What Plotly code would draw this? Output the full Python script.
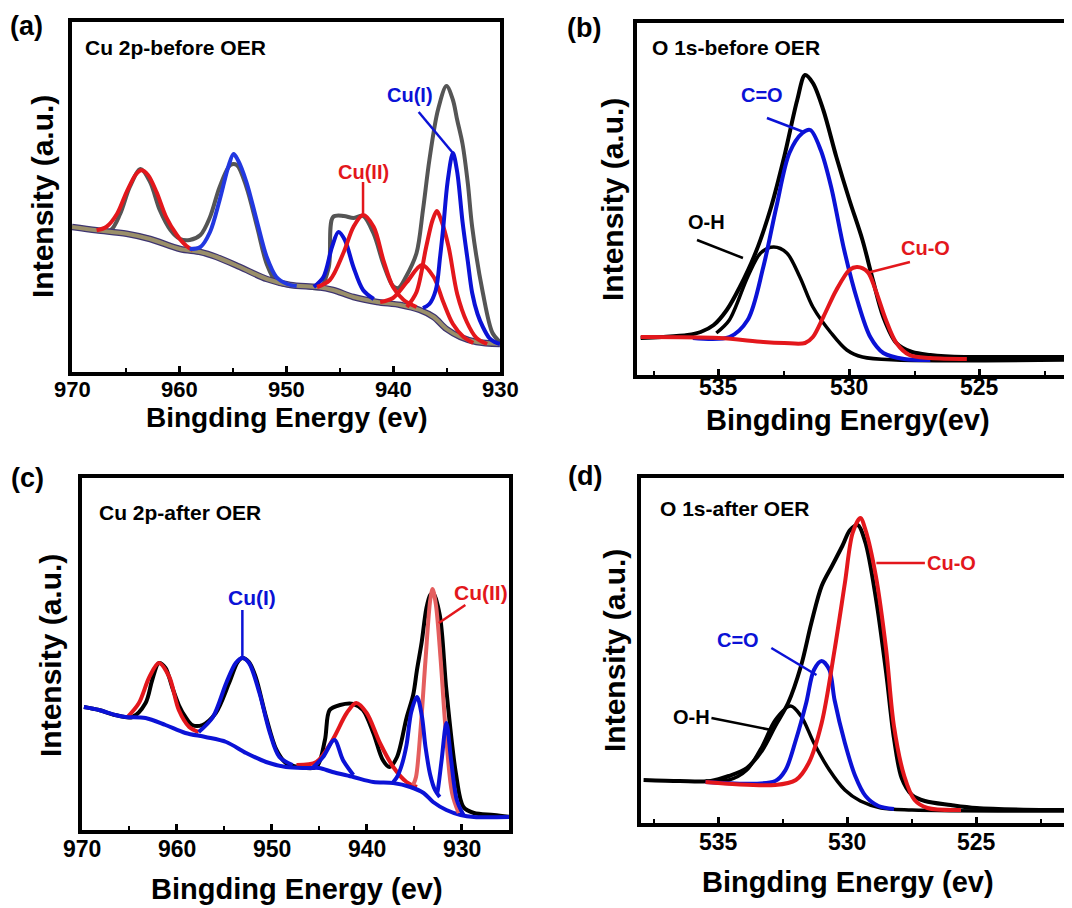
import plotly.graph_objects as go

# The page places the figure 8 px from the top-left corner, so the figure is
# sized to fill the rest of the 1072x908 window.
OFF = 8
W, H = 1072 - OFF, 908 - OFF
FONT = "Liberation Sans, Arial, sans-serif"

# ---------------- Panel (a): Cu 2p before OER ----------------
a_raw_e = [969.9, 967.7, 966.4, 965.5, 964.6, 963.6, 962.7, 961.8, 960.8, 959.9, 959.0, 958.0, 957.1, 956.2,
           955.2, 954.6, 953.7, 952.7, 951.8, 950.9, 949.6, 948.1, 946.8, 946.0, 945.6, 944.6, 943.7, 942.8,
           941.8, 940.9, 940.0, 939.5, 938.8, 937.8, 937.2, 936.6, 935.8, 935.0, 934.4, 934.0, 933.5, 933.0,
           932.6, 931.6, 930.7, 930.0]
a_raw_i = [145, 141.7, 141.7, 158, 185, 203, 190, 162, 142, 133, 132, 137, 155, 185,
           207, 207, 185, 145, 108, 90, 86, 85, 84, 105, 155, 156, 154, 156,
           138, 108, 86, 84, 95, 119, 162, 212, 262, 286, 272, 252, 228, 188,
           145, 79, 39, 30]
a_bg_e = [970, 967.7, 964.9, 962.7, 959.9, 958.0, 956.5, 954.3, 951.8, 949.6, 947.1, 945.6, 943.7, 941.5,
          939.3, 937.5, 936.2, 935.0, 933.7, 932.2, 930]
a_bg_i = [145, 141.7, 138.3, 133, 123, 120, 115, 105, 93, 87, 85, 82, 75, 70, 67, 62, 55, 43, 35, 30, 28]
a_r1_e = [967.7, 966.8, 965.8, 964.9, 964.0, 963.5, 962.9, 962.1, 961.2, 960.2, 959.3, 958.7]
a_r1_i = [141.7, 145, 158, 180, 198, 201.7, 197, 180, 155, 137, 126, 122]
a_b1_e = [959.0, 958.0, 957.1, 956.2, 955.4, 954.9, 954.5, 953.7, 952.7, 951.8, 950.9, 949.9, 949.0]
a_b1_i = [123, 125, 140, 172, 205, 218, 212, 190, 150, 115, 95, 88, 86]
a_b2_e = [947.4, 946.5, 945.7, 945.1, 944.5, 943.7, 942.8, 941.8]
a_b2_i = [85, 95, 125, 140, 132, 105, 82, 73]
a_r2_e = [947.1, 945.9, 944.6, 943.7, 942.8, 941.8, 940.9, 940.0, 939.0, 937.8]
a_r2_i = [85, 92, 120, 145, 157, 145, 112, 85, 72, 65]
a_r3_e = [941.2, 940.0, 938.7, 937.3, 936.2, 935.3, 934.4, 933.4, 932.5]
a_r3_i = [70, 74, 90, 107, 95, 70, 48, 35, 29]
a_r4_e = [938.7, 937.8, 936.9, 936.3, 935.9, 935.5, 934.8, 934.0, 933.1, 932.2, 931.2]
a_r4_i = [65, 80, 125, 152, 161, 152, 125, 78, 50, 34, 28]
a_b3_e = [937.2, 936.6, 936.0, 935.6, 935.3, 934.9, 934.4, 934.0, 933.5, 933.0, 932.6, 932.1, 931.6, 931.0,
          930.5, 930.0]
a_b3_i = [64, 68, 82, 115, 145, 190, 219, 200, 150, 110, 79, 58, 45, 34, 30, 28]

# ---------------- Panel (b): O 1s before OER ----------------
b_raw_e = [538.0, 537.2, 536.2, 535.7, 535.2, 534.7, 534.2, 533.6, 533.0, 532.5, 532.0, 531.7, 531.4, 531.0,
           530.5, 530.0, 529.5, 529.1, 528.7, 528.2, 527.6, 526.9, 525.6, 524.4, 522.2, 521.4]
b_raw_i = [37, 38, 40, 43, 50, 65, 88, 122, 168, 218, 275, 300, 292, 265,
           218, 175, 135, 95, 58, 32, 23, 20, 18, 18, 18, 18]
b_co_e = [536.0, 534.6, 533.9, 533.3, 532.8, 532.3, 531.8, 531.5, 531.1, 530.7, 530.2, 529.7, 529.2, 528.7,
          527.9, 526.9]
b_co_i = [37, 38, 55, 108, 168, 222, 242, 245, 225, 188, 125, 75, 38, 22, 16, 15]
b_oh_e = [535.1, 534.6, 533.9, 533.4, 532.9, 532.4, 531.9, 531.4, 530.7, 530.1, 529.5, 528.2, 521.4]
b_oh_i = [42, 55, 98, 122, 128, 122, 98, 68, 42, 25, 18, 15, 15]
b_cuo_e = [538.0, 535.0, 533.3, 532.5, 531.7, 531.4, 531.0, 530.5, 530.0, 529.7, 529.3, 529.0, 528.6, 528.2,
           527.7, 526.9, 525.5]
b_cuo_i = [38, 37, 33, 32, 32, 38, 58, 85, 105, 108, 103, 85, 55, 32, 20, 17, 16]

# ---------------- Panel (c): Cu 2p after OER ----------------
c_raw_e = [969.8, 968.2, 966.5, 964.7, 963.3, 962.6, 961.9, 961.2, 960.5, 959.8, 959.1, 958.4, 957.3, 955.9,
           954.5, 953.6, 953.1, 952.4, 951.7, 950.6, 949.5, 948.5, 947.1, 945.3, 944.4, 943.9, 942.8, 941.4,
           940.4, 939.3, 938.3, 937.6, 936.8, 935.8, 935.1, 934.7, 934.2, 933.7, 933.3, 933.0, 932.3, 931.6,
           930.6, 929.8, 928.7, 926.6, 924.9]
c_raw_i = [123, 120, 115, 113, 127, 150, 167, 162, 143, 125, 113, 105, 105, 117,
           147, 168, 172, 168, 153, 113, 80, 67, 63, 63, 90, 120, 125, 126,
           120, 97, 70, 63, 73, 112, 135, 160, 188, 222, 235, 237, 215, 140,
           57, 23, 17, 15, 13]
c_bg_e = [969.8, 968.2, 966.5, 965.4, 963.3, 961.2, 959.1, 957.0, 954.8, 952.7, 950.6, 948.5, 946.4, 945.0,
          943.6, 941.4, 939.3, 937.2, 935.4, 934.0, 933.0, 931.6, 930.1, 928.7, 924.9]
c_bg_i = [123, 120, 115, 113, 112, 105, 97, 93, 88, 77, 68, 63, 62, 62,
          58, 53, 48, 47, 43, 37, 28, 20, 15, 13, 13]
c_r1_e = [965.2, 964.0, 962.9, 961.9, 960.8, 959.8, 958.7, 957.7]
c_r1_i = [113, 127, 153, 167, 153, 120, 103, 98]
c_b1_e = [957.7, 956.2, 954.8, 953.8, 953.1, 952.4, 951.3, 950.2, 949.2, 947.8]
c_b1_i = [98, 113, 147, 167, 172, 167, 137, 97, 73, 65]
c_r2_e = [947.4, 945.3, 943.6, 942.1, 941.1, 940.0, 938.6, 937.2, 935.8, 934.7]
c_r2_i = [65, 68, 90, 117, 127, 117, 87, 63, 48, 43]
c_b2_e = [945.7, 944.6, 943.4, 942.5, 941.4]
c_b2_i = [62, 73, 90, 70, 55]
c_b3_e = [937.2, 936.8, 936.3, 935.8, 935.3, 934.7, 934.2, 933.8, 933.3, 932.8, 932.3]
c_b3_i = [48, 53, 65, 85, 118, 133, 115, 83, 55, 40, 33]
c_lr_e = [935.1, 934.8, 934.3, 933.8, 933.3, 933.05, 932.7, 932.2, 931.7, 931.0, 930.3]
c_lr_i = [45, 53, 103, 170, 230, 241, 225, 170, 103, 37, 17]
c_b4_e = [932.6, 932.5, 932.1, 931.6, 931.1, 930.5, 929.8]
c_b4_i = [36, 40, 70, 107, 70, 30, 15]

# ---------------- Panel (d): O 1s after OER ----------------
d_raw_e = [537.9, 536.5, 535.3, 534.6, 533.9, 533.3, 532.8, 532.3, 531.8, 531.4, 531.0, 530.6, 530.2, 529.9,
           529.6, 529.3, 528.9, 528.5, 528.2, 527.9, 527.5, 527.0, 526.0, 525.0, 522.2, 521.3]
d_raw_i = [43, 42, 42, 47, 55, 73, 97, 120, 157, 200, 237, 257, 277, 293,
           298, 280, 225, 150, 85, 45, 28, 22, 18, 15, 13, 13]
d_cuo_e = [535.5, 532.8, 532.0, 531.5, 531.0, 530.5, 530.1, 529.8, 529.5, 529.3, 528.9, 528.5, 528.2, 527.8,
           527.4, 526.9, 525.6]
d_cuo_i = [41, 38, 43, 60, 100, 173, 240, 290, 305, 293, 247, 173, 97, 47, 23, 15, 13]
d_co_e = [535.5, 532.8, 532.4, 532.0, 531.6, 531.3, 531.0, 530.7, 530.5, 530.1, 529.7, 529.3, 528.8, 528.2]
d_co_i = [41, 42, 53, 83, 120, 153, 162, 153, 123, 80, 47, 27, 17, 14]
d_oh_e = [535.5, 534.6, 533.9, 533.3, 532.8, 532.2, 531.8, 531.3, 530.7, 530.1, 529.5, 528.7, 527.5, 521.3]
d_oh_i = [42, 43, 53, 77, 103, 117, 107, 80, 53, 33, 22, 15, 13, 12]

# tick labels
cu_ticks = [970, 960, 950, 940, 930]
o_ticks = [535, 530, 525]

# ---------------- styling ----------------
RED = "#e3171c"
BLUE = "#0b12d6"
BLUE2 = "#2238e0"
LRED = "#e45e5e"
GRAY = "#555555"
BLACK = "#000000"
LW = 4


def px(x):
    """window x pixel -> paper fraction"""
    return (x - OFF) / W


def py(y):
    """window y pixel -> paper fraction"""
    return 1 - (y - OFF) / H


def axn(ax, letter):
    return letter if ax == 1 else f"{letter}{ax}"


fig = go.Figure()


def add(e, i, color, ax, width=LW):
    fig.add_trace(go.Scatter(x=e, y=i, mode="lines", xaxis=axn(ax, "x"), yaxis=axn(ax, "y"),
                             line=dict(color=color, width=width, shape="spline", smoothing=0.9),
                             hoverinfo="skip", showlegend=False))


# (a)
add(a_raw_e, a_raw_i, GRAY, 1)
add(a_bg_e, a_bg_i, "#3e3570", 1, 6.5)
add(a_bg_e, a_bg_i, "#9a8f6a", 1, 4)
add(a_r1_e, a_r1_i, RED, 1)
add(a_b1_e, a_b1_i, BLUE2, 1)
add(a_b2_e, a_b2_i, BLUE, 1)
add(a_r2_e, a_r2_i, RED, 1)
add(a_r3_e, a_r3_i, RED, 1)
add(a_r4_e, a_r4_i, RED, 1)
add(a_b3_e, a_b3_i, BLUE, 1)
# (b)
add(b_raw_e, b_raw_i, BLACK, 2)
add(b_oh_e, b_oh_i, BLACK, 2, 3.5)
add(b_co_e, b_co_i, BLUE, 2)
add(b_cuo_e, b_cuo_i, RED, 2)
# (c)
add(c_raw_e, c_raw_i, BLACK, 3)
add(c_r1_e, c_r1_i, RED, 3)
add(c_r2_e, c_r2_i, RED, 3)
add(c_bg_e, c_bg_i, BLUE, 3)
add(c_b1_e, c_b1_i, BLUE, 3)
add(c_b2_e, c_b2_i, BLUE, 3)
add(c_lr_e, c_lr_i, LRED, 3)
add(c_b3_e, c_b3_i, BLUE, 3)
add(c_b4_e, c_b4_i, BLUE, 3)
# (d)
add(d_raw_e, d_raw_i, BLACK, 4)
add(d_oh_e, d_oh_i, BLACK, 4, 3.5)
add(d_co_e, d_co_i, BLUE, 4)
add(d_cuo_e, d_cuo_i, RED, 4)


def xaxis(dom, rng, dtick, minor, anchor):
    return dict(domain=dom, range=rng, autorange=False, anchor=anchor, showgrid=False, zeroline=False,
                showline=True, linecolor="black", linewidth=4, mirror=True, automargin=False,
                ticks="inside", ticklen=6, tickwidth=2.5, tickcolor="black", dtick=dtick,
                minor=dict(dtick=minor, ticks="inside", ticklen=4, tickwidth=2, tickcolor="black"),
                showticklabels=False)


def yaxis(dom, rng, anchor, mirror):
    return dict(domain=dom, range=rng, autorange=False, anchor=anchor, showgrid=False, zeroline=False,
                showline=True, linecolor="black", linewidth=4, mirror=mirror, automargin=False,
                ticks="", showticklabels=False)


fig.update_layout(
    template="none",
    width=W, height=H, margin=dict(l=0, r=0, t=0, b=0, pad=0, autoexpand=False),
    paper_bgcolor="white", plot_bgcolor="white",
    font=dict(family=FONT, color="black"),
    xaxis=xaxis([px(72), px(500)], [970, 930], 10, 5, "y"),
    yaxis=yaxis([py(372), py(22)], [0, 350], "x", True),
    xaxis2=xaxis([px(637), 1.0], [538.14, 521.47], 5, 2.5, "y2"),
    yaxis2=yaxis([py(375), py(23)], [0, 352], "x2", False),
    xaxis3=xaxis([px(82), px(509)], [970, 925], 10, 5, "y3"),
    yaxis3=yaxis([py(830), py(478)], [0, 352], "x3", True),
    xaxis4=xaxis([px(641), 1.0], [538.0, 521.3], 5, 2.5, "y4"),
    yaxis4=yaxis([py(823), py(478)], [0, 345], "x4", False),
)

ann = []


def ptext(text, x, y, size, xanchor="center", angle=0, color="black"):
    ann.append(dict(text=f"<b>{text}</b>", x=px(x), y=py(y), xref="paper", yref="paper",
                    showarrow=False, xanchor=xanchor, yanchor="middle", textangle=angle,
                    font=dict(family=FONT, size=size, color=color)))


# tick labels (x in data units, y in page position)
for ax, ticks, ylab, fs in [(1, cu_ticks, 389, 22), (2, o_ticks, 387, 23), (3, cu_ticks, 849, 23),
                            (4, o_ticks, 842, 23)]:
    for t in ticks:
        ann.append(dict(text=f"<b>{t}</b>", x=t, y=py(ylab), xref=axn(ax, "x"), yref="paper",
                        showarrow=False, xanchor="center", yanchor="middle",
                        font=dict(family=FONT, size=fs, color="black")))

# panel letters
ptext("(a)", 26, 26, 27)
ptext("(b)", 584, 28, 27)
ptext("(c)", 27, 478, 27)
ptext("(d)", 585, 476, 27)
# panel titles
ptext("Cu 2p-before OER", 83, 47, 21, "left")
ptext("O 1s-before OER", 650, 47, 21, "left")
ptext("Cu 2p-after OER", 97, 512, 21, "left")
ptext("O 1s-after OER", 658, 508, 21, "left")
# axis titles
ptext("Bingding Energy (ev)", 287, 418, 28)
ptext("Bingding Energy(ev)", 848, 420, 29)
ptext("Bingding Energy (ev)", 297, 889, 29)
ptext("Bingding Energy (ev)", 848, 882, 29)
ptext("Intensity (a.u.)", 43, 197, 30, angle=-90)
ptext("Intensity (a.u.)", 612, 200, 30, angle=-90)
ptext("Intensity (a.u.)", 50, 656, 30, angle=-90)
ptext("Intensity (a.u.)", 614, 651, 30, angle=-90)


def dtext(text, x, y, ax, color, size=20, xanchor="center"):
    ann.append(dict(text=f"<b>{text}</b>", x=x, y=y, xref=axn(ax, "x"), yref=axn(ax, "y"), showarrow=False,
                    xanchor=xanchor, yanchor="middle", font=dict(family=FONT, size=size, color=color)))


dtext("Cu(I)", 938.4, 277, 1, BLUE)
dtext("Cu(II)", 942.8, 200, 1, RED)
dtext("C=O", 533.35, 280, 2, BLUE)
dtext("O-H", 535.46, 153, 2, BLACK)
dtext("Cu-O", 527.1, 127, 2, RED)
dtext("Cu(I)", 952.1, 233, 3, BLUE, 21)
dtext("Cu(II)", 927.9, 238, 3, RED, 21)
dtext("Cu-O", 527.0, 260, 4, RED, 20, "left")
dtext("C=O", 534.26, 183, 4, BLUE)
dtext("O-H", 535.25, 106, 4, BLACK, 20, "right")
fig.update_layout(annotations=ann)

shapes = []


def seg(x0, y0, x1, y1, ax, color, w=2.5):
    shapes.append(dict(type="line", x0=x0, y0=y0, x1=x1, y1=y1, xref=axn(ax, "x"), yref=axn(ax, "y"),
                       line=dict(color=color, width=w)))


seg(937.6, 260, 934.4, 219, 1, BLUE)
seg(942.8, 190, 942.8, 157, 1, RED)
seg(533.16, 257, 531.75, 243, 2, BLUE)
seg(535.84, 135, 534.08, 117, 2, BLACK)
seg(527.68, 113, 529.33, 102, 2, RED)
seg(953.1, 220, 953.1, 172, 3, BLUE)
seg(929.6, 225, 932.4, 207, 3, RED)
seg(528.88, 260, 527.0, 260, 4, RED)
seg(532.95, 175, 531.2, 148, 4, BLUE)
seg(535.27, 105, 532.95, 93, 4, BLACK)
fig.update_layout(shapes=shapes)

fig.write_html("out.html")
